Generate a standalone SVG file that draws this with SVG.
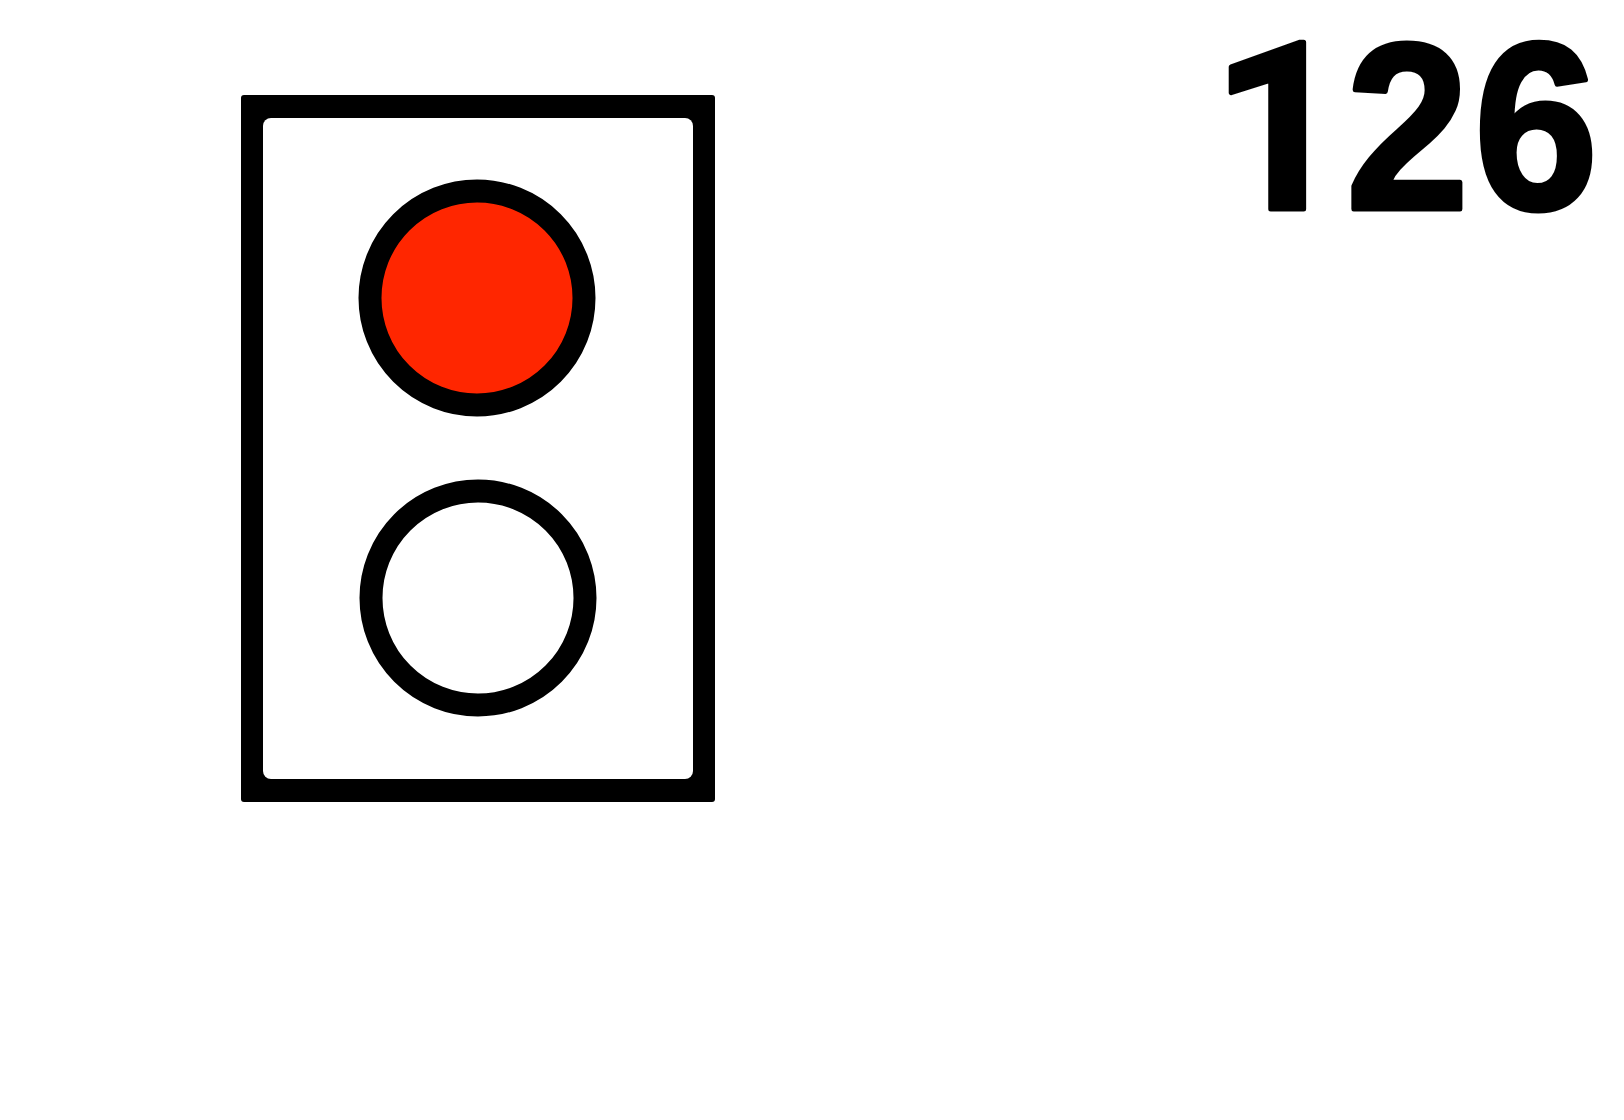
<svg xmlns="http://www.w3.org/2000/svg" width="1624" height="1120" viewBox="0 0 1624 1120">
<style>.l{stroke:#000;stroke-width:23}</style>
<rect width="1624" height="1120" fill="#fff"/>
<g id="signal-frame">
<rect x="241" y="95" width="474" height="707" rx="3" fill="#000"/>
<rect x="263" y="118" width="430" height="661" rx="8" fill="#fff"/>
</g>
<g id="red-lamp"><circle cx="477" cy="298" r="107" fill="#ff2600" class="l"/></g>
<g id="white-lamp"><circle cx="478" cy="598" r="107" fill="#fff" class="l"/></g>
<text id="number" y="209" font-size="238" fill="#000" stroke="#000" stroke-width="5" stroke-linejoin="round" font-weight="700" font-family="'Liberation Sans', sans-serif"><tspan x="1212" font-family="Roboto, 'Liberation Sans', sans-serif" font-size="234">1</tspan><tspan x="1346" textLength="123" lengthAdjust="spacingAndGlyphs">2</tspan><tspan x="1474" textLength="124" lengthAdjust="spacingAndGlyphs">6</tspan></text>
</svg>
